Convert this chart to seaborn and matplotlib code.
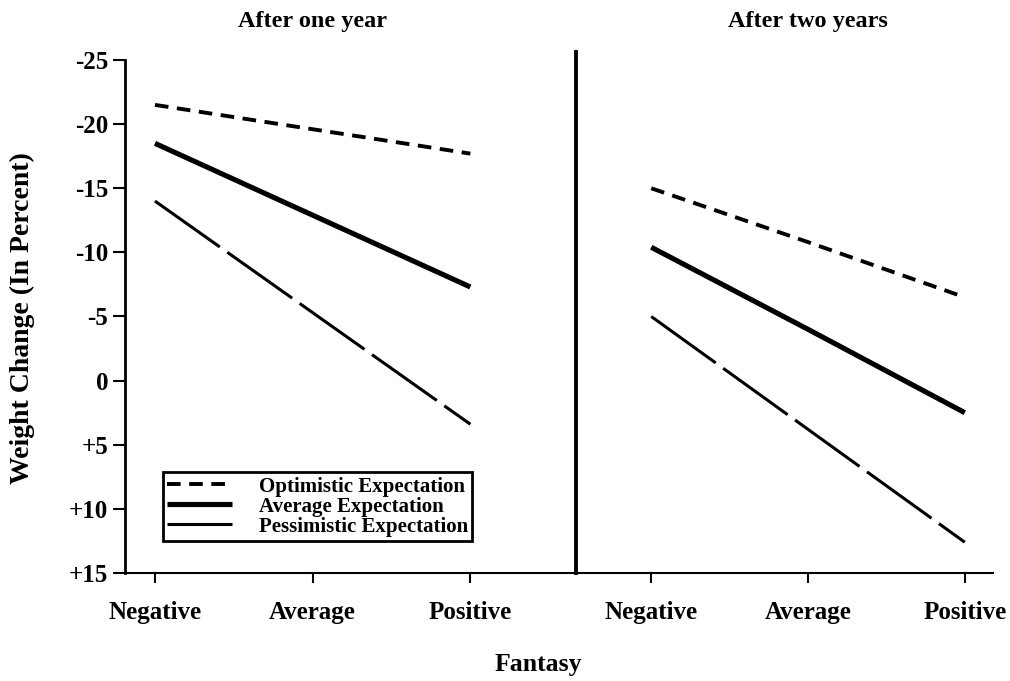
import matplotlib
matplotlib.use("Agg")
import matplotlib.pyplot as plt
import matplotlib.transforms as mtransforms
import seaborn as sns
import pandas as pd

# ---- data ----
fantasy = ["Negative", "Average", "Positive"]
series_names = ["Optimistic Expectation", "Average Expectation", "Pessimistic Expectation"]
one_year_optimistic = [-21.5, -19.6, -17.7]
one_year_average = [-18.5, -12.9, -7.3]
one_year_pessimistic = [-14.0, -5.3, 3.4]
two_year_optimistic = [-15.0, -10.8, -6.5]
two_year_average = [-10.4, -4.0, 2.5]
two_year_pessimistic = [-5.0, 3.8, 12.6]
panel_titles = ["After one year", "After two years"]
y_ticks = [-25, -20, -15, -10, -5, 0, 5, 10, 15]
y_tick_labels = ["-25", "-20", "-15", "-10", "-5", "0", "+5", "+10", "+15"]

def panel_df(opt, avg, pess):
    rows = []
    for name, vals in zip(series_names, [opt, avg, pess]):
        for f, v in zip(fantasy, vals):
            rows.append({"Fantasy": f, "Change": v, "Expectation": name})
    return pd.DataFrame(rows)

df1 = panel_df(one_year_optimistic, one_year_average, one_year_pessimistic)
df2 = panel_df(two_year_optimistic, two_year_average, two_year_pessimistic)

sns.set_theme(style="white")
plt.rcParams["font.family"] = ["Liberation Serif", "DejaVu Serif"]
plt.rcParams["font.weight"] = "bold"
plt.rcParams["text.color"] = "black"
plt.rcParams["axes.labelcolor"] = "black"
plt.rcParams["xtick.color"] = "black"
plt.rcParams["ytick.color"] = "black"

fig = plt.figure(figsize=(10.10, 6.81), dpi=100)
W, H = 1010, 681
bottom_px, top_px = 573, 52.3
ax1 = fig.add_axes([125 / W, 1 - bottom_px / H, 451 / W, (bottom_px - top_px) / H])
ax2 = fig.add_axes([576 / W, 1 - bottom_px / H, 417 / W, (bottom_px - top_px) / H])

dashes = {series_names[0]: (3.5, 2.2), series_names[1]: "", series_names[2]: (26, 3.0)}
sizes = {series_names[0]: 2.8, series_names[1]: 3.7, series_names[2]: 2.2}

TICK_FS = 18
for ax, df in [(ax1, df1), (ax2, df2)]:
    sns.lineplot(data=df, x="Fantasy", y="Change", style="Expectation", size="Expectation",
                 dashes=dashes, sizes=sizes, style_order=series_names, size_order=series_names,
                 color="black", legend=False, ax=ax, sort=False)
    for ln in ax.get_lines():
        ln.set_solid_capstyle("butt")
        ln.set_dash_capstyle("butt")
    ax.set_ylim(15, -25.6)
    ax.set_xlabel("")
    ax.set_ylabel("")
    ax.set_xticks(range(len(fantasy)))
    ax.set_xticklabels(fantasy, fontsize=TICK_FS, fontweight="bold", color="black")
    ax.tick_params(axis="x", bottom=True, direction="out", length=7, width=1.5,
                   color="black", labelcolor="black", pad=13)
    for s in ["top", "right"]:
        ax.spines[s].set_visible(False)
    ax.spines["bottom"].set_color("black")
    ax.spines["bottom"].set_linewidth(1.5)
    ax.spines["left"].set_color("black")

ax1.set_xlim(-0.19, 2.67)
ax2.set_xlim(-0.48, 2.18)

ax1.set_yticks(y_ticks)
ax1.set_yticklabels(y_tick_labels, fontsize=TICK_FS, fontweight="bold", color="black")
ax1.tick_params(axis="y", left=True, direction="out", length=8.6, width=1.5, color="black",
                labelcolor="black", pad=3.6)
ax1.spines["left"].set_linewidth(2)
ax1.spines["left"].set_bounds(15, -25)
ax2.set_yticks([])
ax2.spines["left"].set_linewidth(2.8)

ax1.set_ylabel("Weight Change (In Percent)", fontsize=20, fontweight="bold", color="black")
ax1.yaxis.set_label_coords(-0.2, 0.49)

for ax, t in zip([ax1, ax2], panel_titles):
    tr = mtransforms.blended_transform_factory(ax.transData, fig.transFigure)
    ax.text(1, 1 - 22 / H, t, transform=tr, ha="center", va="center",
            fontsize=17.5, fontweight="bold", color="black")

fig.text(538 / W, 1 - 665 / H, "Fantasy", ha="center", va="center", fontsize=18.5,
         fontweight="bold", color="black")

leg = ax1.legend(handles=ax1.get_lines()[:3], labels=series_names, loc="lower left",
                 bbox_to_anchor=(0.084, 0.062), fontsize=15, frameon=True, fancybox=False,
                 framealpha=1.0, edgecolor="black",
                 handlelength=3.1, handletextpad=1.3, labelspacing=0.0, borderpad=0.2,
                 borderaxespad=0)
leg.get_frame().set_linewidth(2)
for txt in leg.get_texts():
    txt.set_fontweight("bold")
    txt.set_color("black")

fig.savefig("out.png", dpi=100)
